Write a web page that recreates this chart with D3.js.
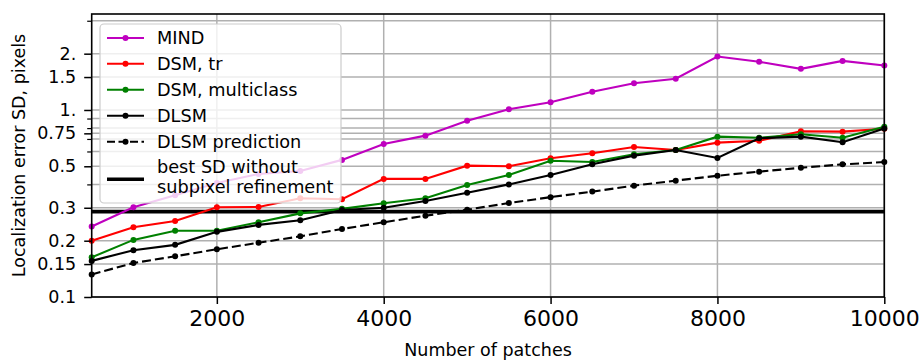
<!DOCTYPE html>
<html>
<head>
<meta charset="utf-8">
<script src="https://cdn.jsdelivr.net/npm/d3@7/dist/d3.min.js"></script>
<style>
  html, body { margin: 0; padding: 0; background: #fff; }
  svg { display: block; font-family: "DejaVu Sans", sans-serif; }
</style>
</head>
<body>
<svg id="chart" width="922" height="361"></svg>
<script>
// Number of training patches
const patches = [500, 1000, 1500, 2000, 2500, 3000, 3500, 4000, 4500, 5000,
                 5500, 6000, 6500, 7000, 7500, 8000, 8500, 9000, 9500, 10000];

// Localization error SD (pixels) per method
const mind      = [0.238, 0.302, 0.350, 0.407, 0.455, 0.472, 0.541, 0.658, 0.729, 0.877,
                   1.009, 1.100, 1.253, 1.390, 1.470, 1.930, 1.810, 1.660, 1.830, 1.730];
const dsmTr     = [0.200, 0.236, 0.255, 0.302, 0.303, 0.337, 0.333, 0.428, 0.428, 0.504,
                   0.500, 0.552, 0.587, 0.634, 0.611, 0.669, 0.685, 0.770, 0.766, 0.794];
const dsmMulti  = [0.163, 0.202, 0.226, 0.226, 0.251, 0.280, 0.296, 0.317, 0.337, 0.397,
                   0.449, 0.535, 0.527, 0.580, 0.611, 0.720, 0.711, 0.741, 0.711, 0.814];
const dlsm      = [0.156, 0.178, 0.190, 0.223, 0.243, 0.257, 0.292, 0.300, 0.326, 0.361,
                   0.400, 0.449, 0.513, 0.570, 0.611, 0.554, 0.706, 0.720, 0.672, 0.796];
const dlsmPred  = [0.132, 0.152, 0.165, 0.180, 0.195, 0.211, 0.231, 0.251, 0.272, 0.293,
                   0.318, 0.342, 0.366, 0.394, 0.419, 0.445, 0.468, 0.491, 0.512, 0.527];
const bestSD = 0.286;

// Axis ticks
const xTicks = [2000, 4000, 6000, 8000, 10000];
const yMajorTicks  = [0.1, 0.15, 0.2, 0.3, 0.5, 0.75, 1, 1.5, 2];
const yMajorLabels = ["0.1", "0.15", "0.2", "0.3", "0.5", "0.75", "1.", "1.5", "2."];
const yMinorTicks  = [0.4, 0.6, 0.7, 0.8, 0.9, 3];

const legendLabels = ["MIND", "DSM, tr", "DSM, multiclass", "DLSM", "DLSM prediction"];
const bestLabel = ["best SD without", "subpixel refinement"];

const series = [
  { name: legendLabels[0], values: mind,     color: "#bf00bf", dash: null },
  { name: legendLabels[1], values: dsmTr,    color: "#ff0000", dash: null },
  { name: legendLabels[2], values: dsmMulti, color: "#008000", dash: null },
  { name: legendLabels[3], values: dlsm,     color: "#000000", dash: null },
  { name: legendLabels[4], values: dlsmPred, color: "#000000", dash: "9,4" }
];

const svg = d3.select("#chart");
const margin = { left: 91.7, top: 14, right: 37.7, bottom: 64 };
const W = 922, H = 361;
const x0 = margin.left, x1 = W - margin.right;
const y0 = H - margin.bottom, y1 = margin.top;

const x = d3.scaleLinear().domain([500, 10000]).range([x0, x1]);
const y = d3.scaleLog().domain([0.1, 3.26]).range([y0, y1]);

const gridColor = "#b0b0b0";

// Grid
const grid = svg.append("g");
grid.selectAll("line.hx")
  .data(yMajorTicks.concat(yMinorTicks))
  .join("line")
  .attr("x1", x0).attr("x2", x1)
  .attr("y1", d => y(d)).attr("y2", d => y(d))
  .attr("stroke", gridColor).attr("stroke-width", 1.5);
grid.selectAll("line.vx")
  .data(xTicks)
  .join("line")
  .attr("x1", d => x(d)).attr("x2", d => x(d))
  .attr("y1", y0).attr("y2", y1)
  .attr("stroke", gridColor).attr("stroke-width", 1.5);

// Reference level without subpixel refinement
svg.append("line")
  .attr("x1", x0).attr("x2", x1)
  .attr("y1", y(bestSD)).attr("y2", y(bestSD))
  .attr("stroke", "#000").attr("stroke-width", 3.6);

// Series
const line = d3.line().x((d, i) => x(patches[i])).y(d => y(d));
series.forEach(s => {
  const g = svg.append("g");
  g.append("path")
    .attr("d", line(s.values))
    .attr("fill", "none")
    .attr("stroke", s.color)
    .attr("stroke-width", 2.1)
    .attr("stroke-dasharray", s.dash);
  g.selectAll("circle")
    .data(s.values)
    .join("circle")
    .attr("cx", (d, i) => x(patches[i]))
    .attr("cy", d => y(d))
    .attr("r", 3)
    .attr("fill", s.color);
});

// Axes
const xAxis = d3.axisBottom(x).tickValues(xTicks).tickFormat(d3.format("d"))
  .tickSize(7).tickPadding(6);
const gx = svg.append("g").attr("transform", `translate(0,${y0})`).call(xAxis);
gx.select(".domain").remove();
gx.selectAll(".tick line").attr("stroke", "#000").attr("stroke-width", 1.5);
gx.selectAll(".tick text").attr("font-size", 22).attr("fill", "#000")
  .attr("font-family", "DejaVu Sans");

const yAxis = d3.axisLeft(y).tickValues(yMajorTicks)
  .tickFormat((d, i) => yMajorLabels[i]).tickSize(7.5).tickPadding(8);
const gy = svg.append("g").attr("transform", `translate(${x0},0)`).call(yAxis);
gy.select(".domain").remove();
gy.selectAll(".tick line").attr("stroke", "#000").attr("stroke-width", 1.5);
gy.selectAll(".tick text").attr("font-size", 17.5).attr("fill", "#000")
  .attr("font-family", "DejaVu Sans");

const yMinor = d3.axisLeft(y).tickValues(yMinorTicks).tickFormat("").tickSize(4.5);
const gym = svg.append("g").attr("transform", `translate(${x0},0)`).call(yMinor);
gym.select(".domain").remove();
gym.selectAll(".tick line").attr("stroke", "#000").attr("stroke-width", 1.2);

// Frame
svg.append("rect")
  .attr("x", x0).attr("y", y1)
  .attr("width", x1 - x0).attr("height", y0 - y1)
  .attr("fill", "none").attr("stroke", "#000").attr("stroke-width", 1.6);

// Axis titles
svg.append("text")
  .attr("x", (x0 + x1) / 2).attr("y", 356)
  .attr("text-anchor", "middle").attr("font-size", 17.5)
  .text("Number of patches");
svg.append("text")
  .attr("transform", `translate(25,${(y0 + y1) / 2}) rotate(-90)`)
  .attr("text-anchor", "middle").attr("font-size", 17.5)
  .text("Localization error SD, pixels");

// Legend
const lg = svg.append("g");
lg.append("rect")
  .attr("x", 100).attr("y", 24).attr("width", 241).attr("height", 179)
  .attr("rx", 4)
  .attr("fill", "#fff").attr("fill-opacity", 0.8)
  .attr("stroke", "#cccccc").attr("stroke-width", 1.2);

const rowY = [38, 63.8, 89.8, 115.8, 141.7];
series.forEach((s, i) => {
  lg.append("line")
    .attr("x1", 107).attr("x2", 144)
    .attr("y1", rowY[i]).attr("y2", rowY[i])
    .attr("stroke", s.color).attr("stroke-width", 2.1)
    .attr("stroke-dasharray", s.dash ? "8,3.5" : null);
  lg.append("circle")
    .attr("cx", 125.5).attr("cy", rowY[i]).attr("r", 3)
    .attr("fill", s.color);
  lg.append("text")
    .attr("x", 157).attr("y", rowY[i] + 6.3)
    .attr("font-size", 17.7).attr("fill", "#000")
    .text(s.name);
});
lg.append("line")
  .attr("x1", 107).attr("x2", 144)
  .attr("y1", 179.3).attr("y2", 179.3)
  .attr("stroke", "#000").attr("stroke-width", 3.6);
lg.append("text")
  .attr("x", 157).attr("y", 173.3)
  .attr("font-size", 17.7).text(bestLabel[0]);
lg.append("text")
  .attr("x", 157).attr("y", 192.7)
  .attr("font-size", 17.7).text(bestLabel[1]);
</script>
</body>
</html>
